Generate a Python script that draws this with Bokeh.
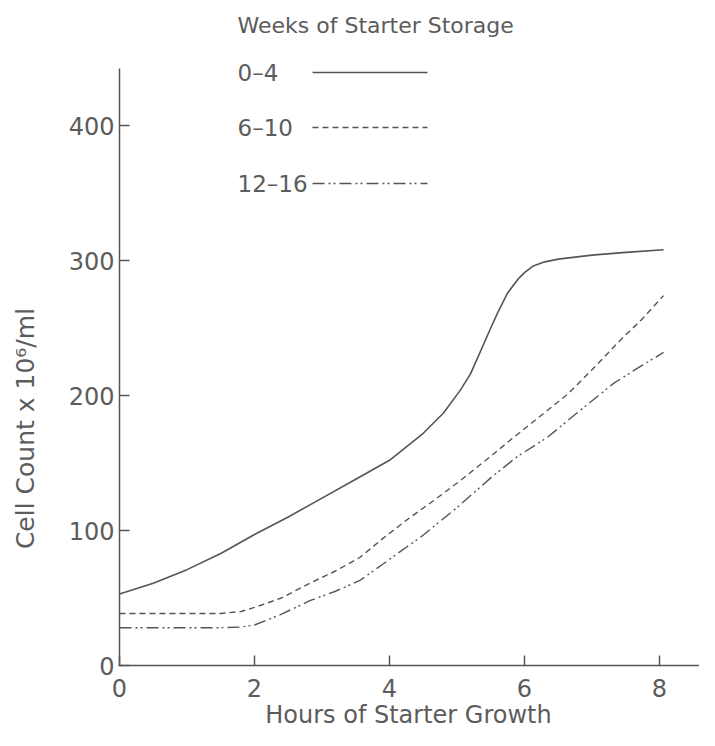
import math
from bokeh.plotting import figure
from bokeh.models import Range1d, Label, FixedTicker
from bokeh.embed import file_html
from bokeh.resources import INLINE

# ---- data ----
hours_a = [0, 0.5, 1.0, 1.5, 2.0, 2.5, 3.0, 3.5, 4.0, 4.5, 4.8, 5.05, 5.2, 5.35,
           5.5, 5.6, 5.75, 5.9, 6.0, 6.13, 6.3, 6.5, 7.0, 7.5, 8.06]
count_a = [53, 61, 71, 83, 97, 110, 124, 138, 152, 172, 187, 204, 216, 233,
           250, 261, 276, 286, 291, 296, 299, 301, 304, 306, 308]

hours_b = [0, 0.5, 1.0, 1.5, 1.8, 2.0, 2.4, 2.82, 3.2, 3.56, 3.9, 4.26, 4.65,
           5.05, 5.45, 5.84, 6.24, 6.64, 7.0, 7.42, 7.75, 8.06]
count_b = [38.5, 38.5, 38.5, 38.5, 40, 43, 50, 61, 70, 80, 94, 108, 122,
           137, 153, 169, 185, 201, 219, 241, 257, 274]

hours_c = [0, 0.5, 1.0, 1.5, 1.8, 2.0, 2.4, 2.82, 3.2, 3.56, 3.9, 4.26, 4.46,
           5.0, 5.5, 5.9, 6.34, 6.8, 7.32, 7.7, 8.06]
count_c = [28, 28, 28, 28, 28.5, 30, 38, 48, 55, 63, 75, 88, 95,
           117, 139, 155, 169, 188, 209, 221, 232]

series_labels = ["0\u20134", "6\u201310", "12\u201316"]
legend_title = "Weeks of Starter Storage"
x_title = "Hours of Starter Growth"
y_title = "Cell Count x 10\u2076/ml"
x_ticks = [0, 2, 4, 6, 8]
y_ticks = [0, 100, 200, 300, 400]
y_axis_top = 442

# ---- style / layout (pixel positions of the original drawing) ----
INK = "#555555"
TXT = "#5c5c5c"
FONT = "DejaVu Sans"
W, H = 699, 730
ORIGIN_X, ORIGIN_Y = 119, 665      # pixel of (0 h, 0 count)
PX_PER_H = 67.5
PX_PER_V = 1.35

def hx(px):  # pixel x -> hours
    return (px - ORIGIN_X) / PX_PER_H

def vy(py):  # pixel y -> count
    return (ORIGIN_Y - py) / PX_PER_V

p = figure(width=W, height=H, output_backend="svg", toolbar_location=None,
           x_range=Range1d(hx(0), hx(W)), y_range=Range1d(vy(H), vy(0)),
           min_border=0)
p.min_border_left = p.min_border_right = p.min_border_top = p.min_border_bottom = 0
p.outline_line_color = None
p.xgrid.visible = False
p.ygrid.visible = False

for ax in (p.xaxis[0], p.yaxis[0]):
    ax.fixed_location = 0
    ax.axis_line_color = INK
    ax.axis_line_width = 1.5
    ax.major_tick_line_color = INK
    ax.major_tick_line_width = 1.5
    ax.major_tick_in = 10
    ax.major_tick_out = 0
    ax.minor_tick_line_color = None
    ax.major_label_text_font = FONT
    ax.major_label_text_font_size = "24px"
    ax.major_label_text_color = TXT

p.xaxis.bounds = (hx(118), hx(W))
p.yaxis.bounds = (0, y_axis_top)
p.xaxis.ticker = FixedTicker(ticks=x_ticks)
p.yaxis.ticker = FixedTicker(ticks=y_ticks)
p.xaxis.major_label_standoff = 13
p.yaxis.major_label_standoff = 5

# curves
p.line(hours_a, count_a, line_color=INK, line_width=1.6)
p.line(hours_b, count_b, line_color=INK, line_width=1.4, line_dash="6 4")
p.line(hours_c, count_c, line_color=INK, line_width=1.4, line_dash="12 4 2 3 2 4")

# axis titles
p.add_layout(Label(x=hx(408), y=vy(714), text=x_title,
                   text_font=FONT, text_font_size="24px", text_color=TXT,
                   text_align="center", text_baseline="middle"))
p.add_layout(Label(x=hx(25), y=vy(428), text=y_title, angle=math.pi / 2,
                   text_font=FONT, text_font_size="25px", text_color=TXT,
                   text_align="center", text_baseline="middle"))

# legend: title, then rows of label + sample line on its right
p.add_layout(Label(x=hx(237), y=vy(25), text=legend_title,
                   text_font=FONT, text_font_size="22px", text_color=TXT,
                   text_align="left", text_baseline="middle"))
leg_rows = [72, 127, 183]
dashes = ["solid", "6 4", "12 4 2 3 2 4"]
for lab, row, dash in zip(series_labels, leg_rows, dashes):
    p.add_layout(Label(x=hx(237), y=vy(row), text=lab,
                       text_font=FONT, text_font_size="23px", text_color=TXT,
                       text_align="left", text_baseline="middle"))
    p.line([hx(312), hx(427)], [vy(row), vy(row)], line_color=INK,
           line_width=1.4, line_dash=dash)

open("out.html", "w").write(file_html(p, INLINE))
